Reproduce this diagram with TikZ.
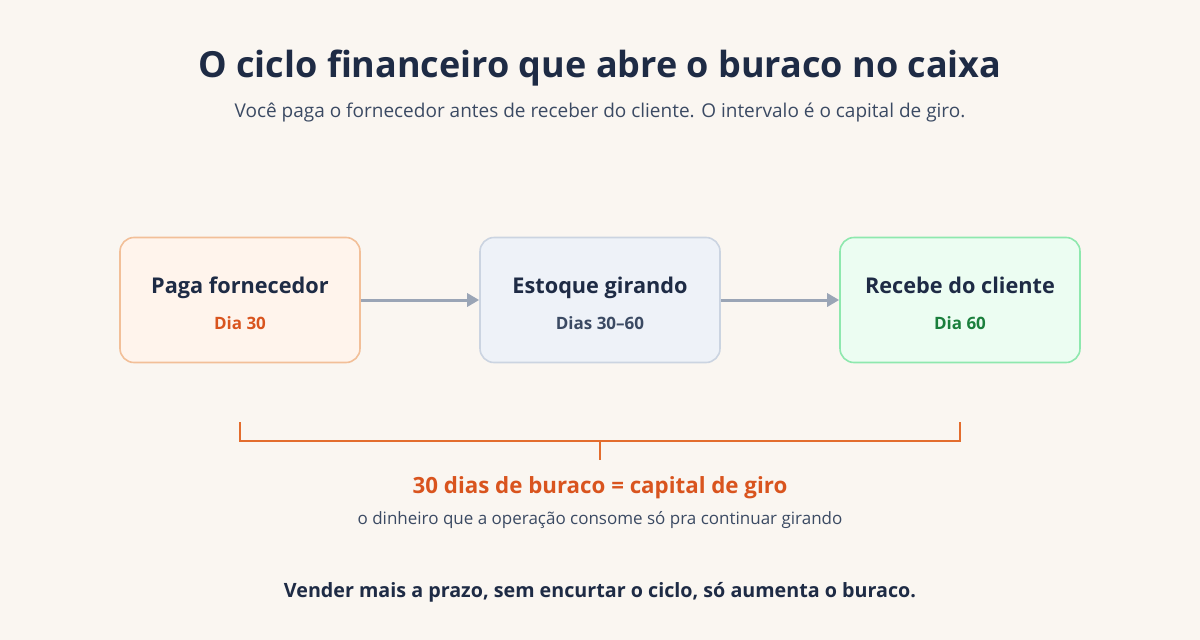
\documentclass[tikz,border=0pt]{standalone}
\usepackage{fontspec}
\setmainfont{Open Sans}
\usetikzlibrary{arrows.meta}
\definecolor{bg}{HTML}{FAF6F1}
\definecolor{navy}{HTML}{1E2B45}
\definecolor{slate}{HTML}{3B4A63}
\definecolor{orangetxt}{HTML}{D9541E}
\definecolor{greentxt}{HTML}{1A7F3C}
\definecolor{oFill}{HTML}{FFF4EC}
\definecolor{oDraw}{HTML}{F2BF98}
\definecolor{bFill}{HTML}{EEF2F8}
\definecolor{bDraw}{HTML}{CBD4E1}
\definecolor{gFill}{HTML}{ECFDF2}
\definecolor{gDraw}{HTML}{8EE8AE}
\definecolor{arrowc}{HTML}{9AA5B6}
\definecolor{bracketc}{HTML}{E36D2E}
\tikzset{
  stagebox/.style={rounded corners=14pt, line width=1.6pt, minimum width=240pt, minimum height=125pt},
  txt/.style={anchor=base, inner sep=0pt},
  boxtitle/.style={txt, font=\fontsize{21.7}{25}\selectfont\bfseries, text=navy},
  boxsub/.style={txt, font=\fontsize{17}{20}\selectfont\bfseries},
  flow/.style={line width=3pt, draw=arrowc, -{Triangle[length=12pt,width=13pt]}},
  brk/.style={line width=2.5pt, draw=bracketc}
}
\begin{document}
\begin{tikzpicture}[x=1pt,y=-1pt]
\fill[bg] (0,0) rectangle (1200,640);
\useasboundingbox (0,0) rectangle (1200,640);
\node[txt, font=\fontsize{36}{42}\selectfont\bfseries, text=navy] (title) at (600,77) {O ciclo financeiro que abre o buraco no caixa};
\node[txt, font=\fontsize{19}{23}\selectfont, text=slate] (sub) at (600,117) {Você paga o fornecedor antes de receber do cliente. O intervalo é o capital de giro.};

\node[stagebox, fill=oFill, draw=oDraw] (b1) at (240,300) {};
\node[stagebox, fill=bFill, draw=bDraw] (b2) at (600,300) {};
\node[stagebox, fill=gFill, draw=gDraw] (b3) at (960,300) {};

\node[boxtitle] (t1) at (240,293) {Paga fornecedor};
\node[boxsub, text=orangetxt] (s1) at (240,329) {Dia 30};
\node[boxtitle] (t2) at (600,293) {Estoque girando};
\node[boxsub, text=slate] (s2) at (600,329) {Dias 30–60};
\node[boxtitle] (t3) at (960,293) {Recebe do cliente};
\node[boxsub, text=greentxt] (s3) at (960,329) {Dia 60};

\draw[flow] (b1.east) -- (b2.west);
\draw[flow] (b2.east) -- (b3.west);

\coordinate (bl) at (240,422);
\coordinate (br) at (960,422);
\coordinate (blb) at (240,441);
\coordinate (brb) at (960,441);
\coordinate (bm) at (600,441);
\coordinate (bmd) at (600,460);
\draw[brk] (bl) -- (blb) -- (brb) -- (br);
\draw[brk] (bm) -- (bmd);

\node[txt, font=\fontsize{22.3}{26}\selectfont\bfseries, text=orangetxt] (gap) at (600,493) {30 dias de buraco = capital de giro};
\node[txt, font=\fontsize{17}{20}\selectfont, text=slate] (gapsub) at (600,524) {o dinheiro que a operação consome só pra continuar girando};
\node[txt, font=\fontsize{19.7}{23}\selectfont\bfseries, text=navy] (foot) at (600,597) {Vender mais a prazo, sem encurtar o ciclo, só aumenta o buraco.};
\end{tikzpicture}
\end{document}
